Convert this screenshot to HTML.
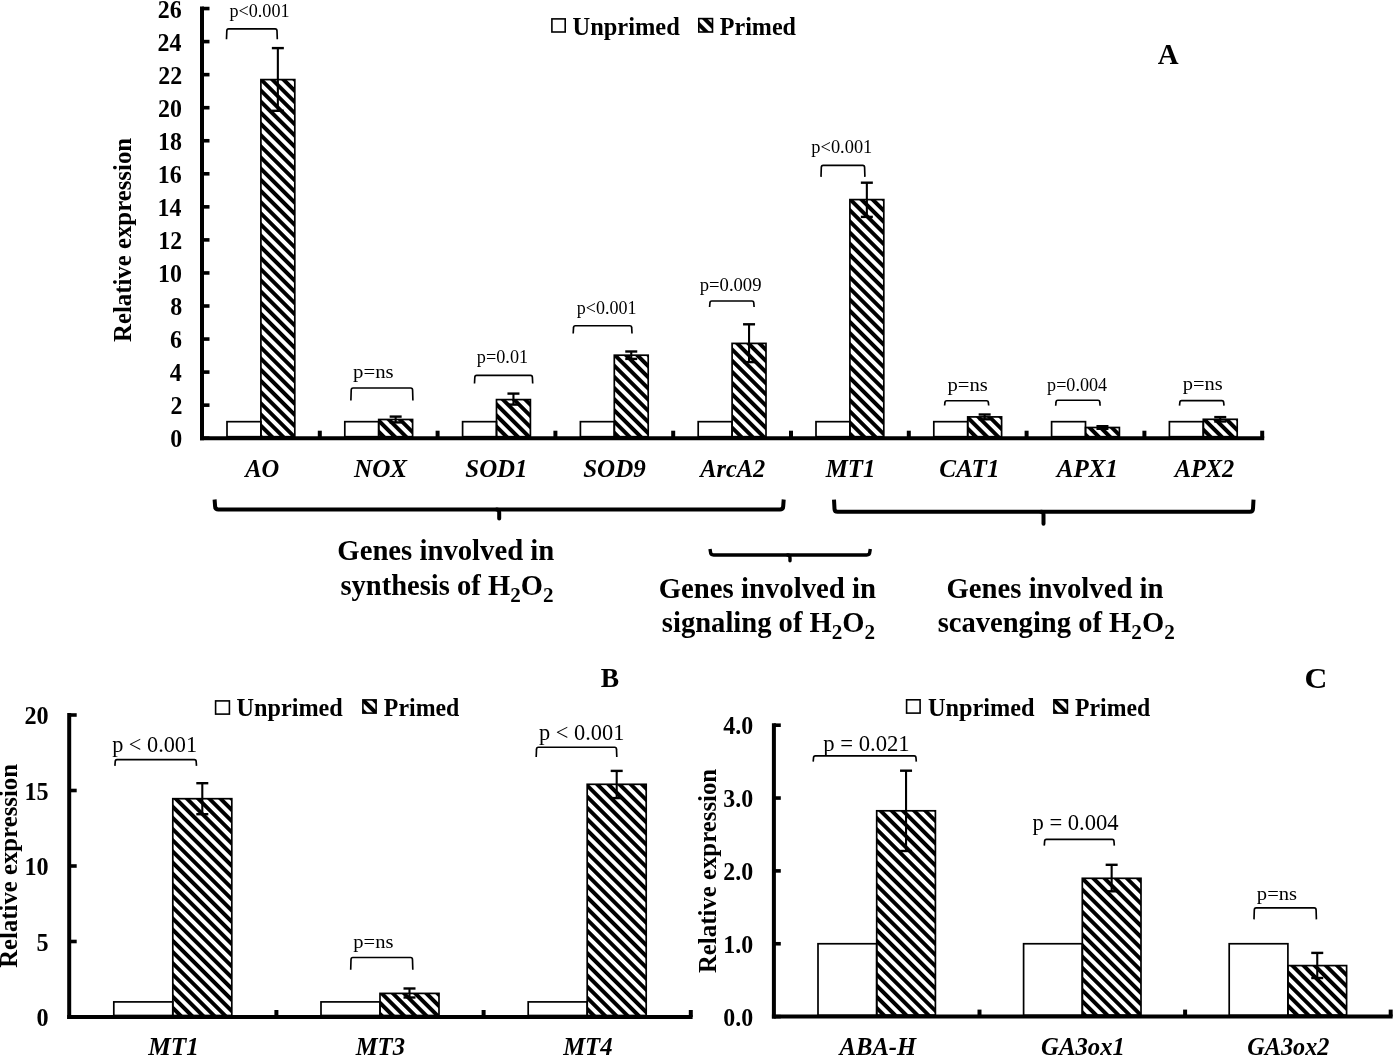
<!DOCTYPE html>
<html><head><meta charset="utf-8"><style>
html,body{margin:0;padding:0;background:#fff;}
body{width:1393px;height:1057px;overflow:hidden;}
svg{display:block;filter:grayscale(100%);}
text{font-family:"Liberation Serif",serif;fill:#000;}
</style></head><body>
<svg width="1393" height="1057" viewBox="0 0 1393 1057" stroke="#000" stroke-linecap="butt">
<defs>
<pattern id="hatch" patternUnits="userSpaceOnUse" width="7.9" height="7.9" patternTransform="rotate(-45)">
<rect x="0" y="0" width="3.95" height="7.9" fill="#000" stroke="none"/>
</pattern>
<pattern id="lh0" patternUnits="userSpaceOnUse" width="7.9" height="7.9" patternTransform="translate(698.80,18.60) rotate(-45) translate(1.95,0)"><rect x="0" y="0" width="4.0" height="7.9" fill="#000" stroke="none"/></pattern><pattern id="lh1" patternUnits="userSpaceOnUse" width="7.9" height="7.9" patternTransform="translate(362.90,699.90) rotate(-45) translate(-2.00,0)"><rect x="0" y="0" width="4.0" height="7.9" fill="#000" stroke="none"/></pattern><pattern id="lh2" patternUnits="userSpaceOnUse" width="7.9" height="7.9" patternTransform="translate(1053.90,699.80) rotate(-45) translate(-2.00,0)"><rect x="0" y="0" width="4.0" height="7.9" fill="#000" stroke="none"/></pattern>
</defs>
<rect x="0" y="0" width="1393" height="1057" fill="#fff" stroke="none"/>
<g stroke="none">
</g>
<line x1="202.00" y1="6.55" x2="202.00" y2="440.20" stroke-width="4"/>
<line x1="202.00" y1="438.20" x2="209.50" y2="438.20" stroke-width="3.6"/>
<line x1="202.00" y1="405.15" x2="209.50" y2="405.15" stroke-width="3.6"/>
<line x1="202.00" y1="372.10" x2="209.50" y2="372.10" stroke-width="3.6"/>
<line x1="202.00" y1="339.05" x2="209.50" y2="339.05" stroke-width="3.6"/>
<line x1="202.00" y1="306.00" x2="209.50" y2="306.00" stroke-width="3.6"/>
<line x1="202.00" y1="272.95" x2="209.50" y2="272.95" stroke-width="3.6"/>
<line x1="202.00" y1="239.90" x2="209.50" y2="239.90" stroke-width="3.6"/>
<line x1="202.00" y1="206.85" x2="209.50" y2="206.85" stroke-width="3.6"/>
<line x1="202.00" y1="173.80" x2="209.50" y2="173.80" stroke-width="3.6"/>
<line x1="202.00" y1="140.75" x2="209.50" y2="140.75" stroke-width="3.6"/>
<line x1="202.00" y1="107.70" x2="209.50" y2="107.70" stroke-width="3.6"/>
<line x1="202.00" y1="74.65" x2="209.50" y2="74.65" stroke-width="3.6"/>
<line x1="202.00" y1="41.60" x2="209.50" y2="41.60" stroke-width="3.6"/>
<line x1="202.00" y1="8.55" x2="209.50" y2="8.55" stroke-width="3.6"/>
<text stroke="none" transform="translate(170.14,447.40) scale(0.9500,1)" font-size="25.2" font-weight="bold" font-style="normal"><tspan>0</tspan></text>
<text stroke="none" transform="translate(170.38,414.35) scale(0.9500,1)" font-size="25.2" font-weight="bold" font-style="normal"><tspan>2</tspan></text>
<text stroke="none" transform="translate(169.66,381.30) scale(0.9500,1)" font-size="25.2" font-weight="bold" font-style="normal"><tspan>4</tspan></text>
<text stroke="none" transform="translate(169.90,348.25) scale(0.9500,1)" font-size="25.2" font-weight="bold" font-style="normal"><tspan>6</tspan></text>
<text stroke="none" transform="translate(170.14,315.20) scale(0.9500,1)" font-size="25.2" font-weight="bold" font-style="normal"><tspan>8</tspan></text>
<text stroke="none" transform="translate(158.03,282.15) scale(0.9500,1)" font-size="25.2" font-weight="bold" font-style="normal"><tspan>10</tspan></text>
<text stroke="none" transform="translate(158.26,249.10) scale(0.9500,1)" font-size="25.2" font-weight="bold" font-style="normal"><tspan>12</tspan></text>
<text stroke="none" transform="translate(157.55,216.05) scale(0.9500,1)" font-size="25.2" font-weight="bold" font-style="normal"><tspan>14</tspan></text>
<text stroke="none" transform="translate(157.79,183.00) scale(0.9500,1)" font-size="25.2" font-weight="bold" font-style="normal"><tspan>16</tspan></text>
<text stroke="none" transform="translate(158.03,149.95) scale(0.9500,1)" font-size="25.2" font-weight="bold" font-style="normal"><tspan>18</tspan></text>
<text stroke="none" transform="translate(158.03,116.90) scale(0.9500,1)" font-size="25.2" font-weight="bold" font-style="normal"><tspan>20</tspan></text>
<text stroke="none" transform="translate(158.26,83.85) scale(0.9500,1)" font-size="25.2" font-weight="bold" font-style="normal"><tspan>22</tspan></text>
<text stroke="none" transform="translate(157.55,50.80) scale(0.9500,1)" font-size="25.2" font-weight="bold" font-style="normal"><tspan>24</tspan></text>
<text stroke="none" transform="translate(157.79,17.75) scale(0.9500,1)" font-size="25.2" font-weight="bold" font-style="normal"><tspan>26</tspan></text>
<line x1="200.00" y1="438.20" x2="1264.20" y2="438.20" stroke-width="4"/>
<line x1="319.80" y1="438.20" x2="319.80" y2="430.70" stroke-width="4"/>
<line x1="437.60" y1="438.20" x2="437.60" y2="430.70" stroke-width="4"/>
<line x1="555.40" y1="438.20" x2="555.40" y2="430.70" stroke-width="4"/>
<line x1="673.20" y1="438.20" x2="673.20" y2="430.70" stroke-width="4"/>
<line x1="791.00" y1="438.20" x2="791.00" y2="430.70" stroke-width="4"/>
<line x1="908.80" y1="438.20" x2="908.80" y2="430.70" stroke-width="4"/>
<line x1="1026.60" y1="438.20" x2="1026.60" y2="430.70" stroke-width="4"/>
<line x1="1144.40" y1="438.20" x2="1144.40" y2="430.70" stroke-width="4"/>
<line x1="1262.20" y1="438.20" x2="1262.20" y2="430.70" stroke-width="4"/>
<rect x="227.00" y="421.68" width="33.90" height="15.02" fill="#fff" stroke-width="1.7"/>
<rect x="260.90" y="79.60" width="33.90" height="357.10" fill="url(#hatch)" stroke-width="1.7"/>
<line x1="277.85" y1="48.10" x2="277.85" y2="110.80" stroke-width="2.1"/>
<line x1="271.85" y1="48.10" x2="283.85" y2="48.10" stroke-width="2.4"/>
<line x1="271.85" y1="110.80" x2="283.85" y2="110.80" stroke-width="2.4"/>
<path d="M226.50,39.20 L226.80,31.10 Q226.80,28.90 228.70,28.90 L275.10,28.90 Q277.00,28.90 277.00,31.10 L277.30,39.20" stroke-width="1.65" fill="none"/>
<text stroke="none" transform="translate(229.47,17.10) scale(0.9156,1)" font-size="19.8" font-weight="normal" font-style="normal"><tspan>p<0.001</tspan></text>
<text stroke="none" transform="translate(245.25,476.80) scale(1.0000,1)" font-size="24.5" font-weight="bold" font-style="italic"><tspan>AO</tspan></text>
<rect x="344.80" y="421.68" width="33.90" height="15.02" fill="#fff" stroke-width="1.7"/>
<rect x="378.70" y="419.50" width="33.90" height="17.20" fill="url(#hatch)" stroke-width="1.7"/>
<line x1="395.65" y1="416.60" x2="395.65" y2="422.40" stroke-width="2.1"/>
<line x1="389.65" y1="416.60" x2="401.65" y2="416.60" stroke-width="2.4"/>
<line x1="389.65" y1="422.40" x2="401.65" y2="422.40" stroke-width="2.4"/>
<path d="M350.90,400.60 L351.20,390.20 Q351.20,388.00 353.10,388.00 L410.70,388.00 Q412.60,388.00 412.60,390.20 L412.90,400.60" stroke-width="1.65" fill="none"/>
<text stroke="none" transform="translate(353.04,378.20) scale(1.0517,1)" font-size="19.8" font-weight="normal" font-style="normal"><tspan>p=ns</tspan></text>
<text stroke="none" transform="translate(354.06,476.80) scale(1.0267,1)" font-size="24.5" font-weight="bold" font-style="italic"><tspan>NOX</tspan></text>
<rect x="462.60" y="421.68" width="33.90" height="15.02" fill="#fff" stroke-width="1.7"/>
<rect x="496.50" y="399.60" width="33.90" height="37.10" fill="url(#hatch)" stroke-width="1.7"/>
<line x1="513.45" y1="393.60" x2="513.45" y2="404.60" stroke-width="2.1"/>
<line x1="507.45" y1="393.60" x2="519.45" y2="393.60" stroke-width="2.4"/>
<line x1="507.45" y1="404.60" x2="519.45" y2="404.60" stroke-width="2.4"/>
<path d="M474.50,383.50 L474.80,377.60 Q474.80,375.40 476.70,375.40 L530.50,375.40 Q532.40,375.40 532.40,377.60 L532.70,383.50" stroke-width="1.65" fill="none"/>
<text stroke="none" transform="translate(476.87,362.80) scale(0.9198,1)" font-size="19.8" font-weight="normal" font-style="normal"><tspan>p=0.01</tspan></text>
<text stroke="none" transform="translate(465.29,476.80) scale(1.0163,1)" font-size="24.5" font-weight="bold" font-style="italic"><tspan>SOD1</tspan></text>
<rect x="580.40" y="421.68" width="33.90" height="15.02" fill="#fff" stroke-width="1.7"/>
<rect x="614.30" y="355.20" width="33.90" height="81.50" fill="url(#hatch)" stroke-width="1.7"/>
<line x1="631.25" y1="351.50" x2="631.25" y2="358.90" stroke-width="2.1"/>
<line x1="625.25" y1="351.50" x2="637.25" y2="351.50" stroke-width="2.4"/>
<line x1="625.25" y1="358.90" x2="637.25" y2="358.90" stroke-width="2.4"/>
<path d="M573.20,333.50 L573.50,327.90 Q573.50,325.70 575.40,325.70 L629.80,325.70 Q631.70,325.70 631.70,327.90 L632.00,333.50" stroke-width="1.65" fill="none"/>
<text stroke="none" transform="translate(576.77,314.00) scale(0.9109,1)" font-size="19.8" font-weight="normal" font-style="normal"><tspan>p<0.001</tspan></text>
<text stroke="none" transform="translate(583.19,476.80) scale(1.0224,1)" font-size="24.5" font-weight="bold" font-style="italic"><tspan>SOD9</tspan></text>
<rect x="698.20" y="421.68" width="33.90" height="15.02" fill="#fff" stroke-width="1.7"/>
<rect x="732.10" y="343.40" width="33.90" height="93.30" fill="url(#hatch)" stroke-width="1.7"/>
<line x1="749.05" y1="324.30" x2="749.05" y2="362.10" stroke-width="2.1"/>
<line x1="743.05" y1="324.30" x2="755.05" y2="324.30" stroke-width="2.4"/>
<line x1="743.05" y1="362.10" x2="755.05" y2="362.10" stroke-width="2.4"/>
<path d="M709.60,307.00 L709.90,303.20 Q709.90,301.00 711.80,301.00 L751.90,301.00 Q753.80,301.00 753.80,303.20 L754.10,307.00" stroke-width="1.65" fill="none"/>
<text stroke="none" transform="translate(699.76,290.50) scale(0.9416,1)" font-size="19.8" font-weight="normal" font-style="normal"><tspan>p=0.009</tspan></text>
<text stroke="none" transform="translate(700.34,476.80) scale(0.9939,1)" font-size="24.5" font-weight="bold" font-style="italic"><tspan>ArcA2</tspan></text>
<rect x="816.00" y="421.68" width="33.90" height="15.02" fill="#fff" stroke-width="1.7"/>
<rect x="849.90" y="199.60" width="33.90" height="237.10" fill="url(#hatch)" stroke-width="1.7"/>
<line x1="866.85" y1="182.70" x2="866.85" y2="216.90" stroke-width="2.1"/>
<line x1="860.85" y1="182.70" x2="872.85" y2="182.70" stroke-width="2.4"/>
<line x1="860.85" y1="216.90" x2="872.85" y2="216.90" stroke-width="2.4"/>
<path d="M821.00,176.90 L821.30,167.60 Q821.30,165.40 823.20,165.40 L862.70,165.40 Q864.60,165.40 864.60,167.60 L864.90,176.90" stroke-width="1.65" fill="none"/>
<text stroke="none" transform="translate(811.37,153.40) scale(0.9281,1)" font-size="19.8" font-weight="normal" font-style="normal"><tspan>p<0.001</tspan></text>
<text stroke="none" transform="translate(825.65,476.80) scale(1.0139,1)" font-size="24.5" font-weight="bold" font-style="italic"><tspan>MT1</tspan></text>
<rect x="933.80" y="421.68" width="33.90" height="15.02" fill="#fff" stroke-width="1.7"/>
<rect x="967.70" y="416.90" width="33.90" height="19.80" fill="url(#hatch)" stroke-width="1.7"/>
<line x1="984.65" y1="414.50" x2="984.65" y2="419.30" stroke-width="2.1"/>
<line x1="978.65" y1="414.50" x2="990.65" y2="414.50" stroke-width="2.4"/>
<line x1="978.65" y1="419.30" x2="990.65" y2="419.30" stroke-width="2.4"/>
<path d="M944.60,405.50 L944.90,402.90 Q944.90,400.70 946.80,400.70 L986.50,400.70 Q988.40,400.70 988.40,402.90 L988.70,405.50" stroke-width="1.65" fill="none"/>
<text stroke="none" transform="translate(947.54,390.50) scale(1.0437,1)" font-size="19.8" font-weight="normal" font-style="normal"><tspan>p=ns</tspan></text>
<text stroke="none" transform="translate(939.33,476.80) scale(1.0299,1)" font-size="24.5" font-weight="bold" font-style="italic"><tspan>CAT1</tspan></text>
<rect x="1051.60" y="421.68" width="33.90" height="15.02" fill="#fff" stroke-width="1.7"/>
<rect x="1085.50" y="427.50" width="33.90" height="9.20" fill="url(#hatch)" stroke-width="1.7"/>
<line x1="1102.45" y1="426.20" x2="1102.45" y2="428.80" stroke-width="2.1"/>
<line x1="1096.45" y1="426.20" x2="1108.45" y2="426.20" stroke-width="2.4"/>
<line x1="1096.45" y1="428.80" x2="1108.45" y2="428.80" stroke-width="2.4"/>
<path d="M1055.70,405.70 L1056.00,402.40 Q1056.00,400.20 1057.90,400.20 L1097.90,400.20 Q1099.80,400.20 1099.80,402.40 L1100.10,405.70" stroke-width="1.65" fill="none"/>
<text stroke="none" transform="translate(1047.07,391.20) scale(0.9158,1)" font-size="19.8" font-weight="normal" font-style="normal"><tspan>p=0.004</tspan></text>
<text stroke="none" transform="translate(1056.78,476.80) scale(1.0213,1)" font-size="24.5" font-weight="bold" font-style="italic"><tspan>APX1</tspan></text>
<rect x="1169.40" y="421.68" width="33.90" height="15.02" fill="#fff" stroke-width="1.7"/>
<rect x="1203.30" y="419.30" width="33.90" height="17.40" fill="url(#hatch)" stroke-width="1.7"/>
<line x1="1220.25" y1="417.10" x2="1220.25" y2="421.50" stroke-width="2.1"/>
<line x1="1214.25" y1="417.10" x2="1226.25" y2="417.10" stroke-width="2.4"/>
<line x1="1214.25" y1="421.50" x2="1226.25" y2="421.50" stroke-width="2.4"/>
<path d="M1179.50,405.70 L1179.80,402.80 Q1179.80,400.60 1181.70,400.60 L1221.80,400.60 Q1223.70,400.60 1223.70,402.80 L1224.00,405.70" stroke-width="1.65" fill="none"/>
<text stroke="none" transform="translate(1182.74,390.40) scale(1.0358,1)" font-size="19.8" font-weight="normal" font-style="normal"><tspan>p=ns</tspan></text>
<text stroke="none" transform="translate(1174.74,476.80) scale(0.9942,1)" font-size="24.5" font-weight="bold" font-style="italic"><tspan>APX2</tspan></text>
<rect x="551.90" y="18.90" width="13.30" height="13.10" fill="#fff" stroke-width="1.6"/>
<text stroke="none" transform="translate(572.51,34.90) scale(0.9780,1)" font-size="25.0" font-weight="bold" font-style="normal"><tspan>Unprimed</tspan></text>
<rect x="698.80" y="18.60" width="13.70" height="13.40" fill="url(#lh0)" stroke-width="1.6"/>
<text stroke="none" transform="translate(719.72,34.90) scale(0.9643,1)" font-size="25.0" font-weight="bold" font-style="normal"><tspan>Primed</tspan></text>
<text stroke="none" transform="translate(1157.76,64.30) scale(0.9783,1)" font-size="29.5" font-weight="bold" font-style="normal"><tspan>A</tspan></text>
<text stroke="none" transform="translate(131.20,342.00) rotate(-90) scale(1.0087,1)" font-size="24.6" font-weight="bold" font-style="normal"><tspan>Relative expression</tspan></text>
<path d="M214.60,499.50 L215.10,506.40 Q215.20,509.40 218.20,509.40 L780.10,509.40 Q783.10,509.40 783.20,506.40 L783.70,499.50" stroke-width="4" fill="none"/>
<path d="M496.70,509.40 Q499.20,509.40 499.20,512.40 L499.20,518.40" stroke-width="4" fill="none" stroke-linecap="round"/>
<path d="M834.00,499.60 L834.50,508.80 Q834.60,511.80 837.60,511.80 L1249.90,511.80 Q1252.90,511.80 1253.00,508.80 L1253.50,499.60" stroke-width="4" fill="none"/>
<path d="M1041.00,511.80 Q1043.50,511.80 1043.50,514.80 L1043.50,523.80" stroke-width="4" fill="none" stroke-linecap="round"/>
<path d="M710.00,548.90 L710.50,552.00 Q710.60,555.00 713.60,555.00 L866.70,555.00 Q869.70,555.00 869.80,552.00 L870.30,548.90" stroke-width="3.4" fill="none"/>
<path d="M787.50,555.00 Q790.00,555.00 790.00,558.00 L790.00,560.80" stroke-width="3.4" fill="none" stroke-linecap="round"/>
<text stroke="none" transform="translate(337.34,560.10) scale(1.0077,1)" font-size="28.5" font-weight="bold" font-style="normal"><tspan>Genes involved in</tspan></text>
<text stroke="none" transform="translate(340.45,594.60) scale(1.0017,1)" font-size="28.5" font-weight="bold" font-style="normal"><tspan>synthesis of H</tspan><tspan font-size="21.09" dy="7.12">2</tspan><tspan dy="-7.12">O</tspan><tspan font-size="21.09" dy="7.12">2</tspan></text>
<text stroke="none" transform="translate(658.64,597.70) scale(1.0101,1)" font-size="28.5" font-weight="bold" font-style="normal"><tspan>Genes involved in</tspan></text>
<text stroke="none" transform="translate(661.85,632.30) scale(1.0033,1)" font-size="28.5" font-weight="bold" font-style="normal"><tspan>signaling of H</tspan><tspan font-size="21.09" dy="7.12">2</tspan><tspan dy="-7.12">O</tspan><tspan font-size="21.09" dy="7.12">2</tspan></text>
<text stroke="none" transform="translate(946.44,597.50) scale(1.0087,1)" font-size="28.5" font-weight="bold" font-style="normal"><tspan>Genes involved in</tspan></text>
<text stroke="none" transform="translate(937.65,632.20) scale(1.0030,1)" font-size="28.5" font-weight="bold" font-style="normal"><tspan>scavenging of H</tspan><tspan font-size="21.09" dy="7.12">2</tspan><tspan dy="-7.12">O</tspan><tspan font-size="21.09" dy="7.12">2</tspan></text>
<line x1="69.20" y1="713.00" x2="69.20" y2="1019.00" stroke-width="4"/>
<line x1="69.20" y1="1017.00" x2="76.70" y2="1017.00" stroke-width="3.6"/>
<text stroke="none" transform="translate(36.62,1026.20) scale(0.9600,1)" font-size="25.2" font-weight="bold" font-style="normal"><tspan>0</tspan></text>
<line x1="69.20" y1="941.50" x2="76.70" y2="941.50" stroke-width="3.6"/>
<text stroke="none" transform="translate(36.62,950.70) scale(0.9600,1)" font-size="25.2" font-weight="bold" font-style="normal"><tspan>5</tspan></text>
<line x1="69.20" y1="866.00" x2="76.70" y2="866.00" stroke-width="3.6"/>
<text stroke="none" transform="translate(24.38,875.20) scale(0.9600,1)" font-size="25.2" font-weight="bold" font-style="normal"><tspan>10</tspan></text>
<line x1="69.20" y1="790.50" x2="76.70" y2="790.50" stroke-width="3.6"/>
<text stroke="none" transform="translate(24.38,799.70) scale(0.9600,1)" font-size="25.2" font-weight="bold" font-style="normal"><tspan>15</tspan></text>
<line x1="69.20" y1="715.00" x2="76.70" y2="715.00" stroke-width="3.6"/>
<text stroke="none" transform="translate(24.38,724.20) scale(0.9600,1)" font-size="25.2" font-weight="bold" font-style="normal"><tspan>20</tspan></text>
<line x1="67.20" y1="1017.00" x2="692.60" y2="1017.00" stroke-width="4"/>
<line x1="276.40" y1="1017.00" x2="276.40" y2="1010.00" stroke-width="4"/>
<line x1="483.60" y1="1017.00" x2="483.60" y2="1010.00" stroke-width="4"/>
<line x1="690.80" y1="1017.00" x2="690.80" y2="1010.00" stroke-width="4"/>
<rect x="113.80" y="1001.90" width="59.00" height="13.60" fill="#fff" stroke-width="1.7"/>
<rect x="172.80" y="798.70" width="59.00" height="216.80" fill="url(#hatch)" stroke-width="1.7"/>
<line x1="202.30" y1="783.20" x2="202.30" y2="814.20" stroke-width="2.1"/>
<line x1="196.30" y1="783.20" x2="208.30" y2="783.20" stroke-width="2.4"/>
<line x1="196.30" y1="814.20" x2="208.30" y2="814.20" stroke-width="2.4"/>
<path d="M114.90,765.90 L115.20,761.80 Q115.20,759.60 117.10,759.60 L194.30,759.60 Q196.20,759.60 196.20,761.80 L196.50,765.90" stroke-width="1.65" fill="none"/>
<text stroke="none" transform="translate(112.16,752.20) scale(0.9489,1)" font-size="23.5" font-weight="normal" font-style="normal"><tspan>p < 0.001</tspan></text>
<text stroke="none" transform="translate(148.16,1055.20) scale(1.0374,1)" font-size="24.5" font-weight="bold" font-style="italic"><tspan>MT1</tspan></text>
<rect x="321.00" y="1001.90" width="59.00" height="13.60" fill="#fff" stroke-width="1.7"/>
<rect x="380.00" y="993.40" width="59.00" height="22.10" fill="url(#hatch)" stroke-width="1.7"/>
<line x1="409.50" y1="988.50" x2="409.50" y2="997.50" stroke-width="2.1"/>
<line x1="403.50" y1="988.50" x2="415.50" y2="988.50" stroke-width="2.4"/>
<line x1="403.50" y1="997.50" x2="415.50" y2="997.50" stroke-width="2.4"/>
<path d="M350.70,969.70 L351.00,959.70 Q351.00,957.50 352.90,957.50 L410.60,957.50 Q412.50,957.50 412.50,959.70 L412.80,969.70" stroke-width="1.65" fill="none"/>
<text stroke="none" transform="translate(353.34,947.80) scale(1.0384,1)" font-size="19.8" font-weight="normal" font-style="normal"><tspan>p=ns</tspan></text>
<text stroke="none" transform="translate(355.75,1055.20) scale(1.0041,1)" font-size="24.5" font-weight="bold" font-style="italic"><tspan>MT3</tspan></text>
<rect x="528.20" y="1001.90" width="59.00" height="13.60" fill="#fff" stroke-width="1.7"/>
<rect x="587.20" y="784.30" width="59.00" height="231.20" fill="url(#hatch)" stroke-width="1.7"/>
<line x1="616.70" y1="770.90" x2="616.70" y2="798.10" stroke-width="2.1"/>
<line x1="610.70" y1="770.90" x2="622.70" y2="770.90" stroke-width="2.4"/>
<line x1="610.70" y1="798.10" x2="622.70" y2="798.10" stroke-width="2.4"/>
<path d="M536.20,757.00 L536.50,749.40 Q536.50,747.20 538.40,747.20 L614.60,747.20 Q616.50,747.20 616.50,749.40 L616.80,757.00" stroke-width="1.65" fill="none"/>
<text stroke="none" transform="translate(539.06,739.50) scale(0.9523,1)" font-size="23.5" font-weight="normal" font-style="normal"><tspan>p < 0.001</tspan></text>
<text stroke="none" transform="translate(563.15,1055.20) scale(1.0082,1)" font-size="24.5" font-weight="bold" font-style="italic"><tspan>MT4</tspan></text>
<rect x="215.60" y="700.90" width="13.80" height="13.20" fill="#fff" stroke-width="1.6"/>
<text stroke="none" transform="translate(236.52,715.60) scale(0.9688,1)" font-size="25.0" font-weight="bold" font-style="normal"><tspan>Unprimed</tspan></text>
<rect x="362.90" y="699.90" width="13.20" height="13.20" fill="url(#lh1)" stroke-width="1.6"/>
<text stroke="none" transform="translate(383.82,715.80) scale(0.9554,1)" font-size="25.0" font-weight="bold" font-style="normal"><tspan>Primed</tspan></text>
<text stroke="none" transform="translate(600.70,687.20) scale(1.0000,1)" font-size="27.5" font-weight="bold" font-style="normal"><tspan>B</tspan></text>
<text stroke="none" transform="translate(17.30,967.80) rotate(-90) scale(1.0067,1)" font-size="24.6" font-weight="bold" font-style="normal"><tspan>Relative expression</tspan></text>
<line x1="773.90" y1="723.20" x2="773.90" y2="1018.60" stroke-width="4"/>
<line x1="773.90" y1="1016.60" x2="780.80" y2="1016.60" stroke-width="3.6"/>
<text stroke="none" transform="translate(723.19,1025.80) scale(0.9500,1)" font-size="25.2" font-weight="bold" font-style="normal"><tspan>0.0</tspan></text>
<line x1="773.90" y1="943.75" x2="780.80" y2="943.75" stroke-width="3.6"/>
<text stroke="none" transform="translate(723.19,952.95) scale(0.9500,1)" font-size="25.2" font-weight="bold" font-style="normal"><tspan>1.0</tspan></text>
<line x1="773.90" y1="870.90" x2="780.80" y2="870.90" stroke-width="3.6"/>
<text stroke="none" transform="translate(723.19,880.10) scale(0.9500,1)" font-size="25.2" font-weight="bold" font-style="normal"><tspan>2.0</tspan></text>
<line x1="773.90" y1="798.05" x2="780.80" y2="798.05" stroke-width="3.6"/>
<text stroke="none" transform="translate(723.19,807.25) scale(0.9500,1)" font-size="25.2" font-weight="bold" font-style="normal"><tspan>3.0</tspan></text>
<line x1="773.90" y1="725.20" x2="780.80" y2="725.20" stroke-width="3.6"/>
<text stroke="none" transform="translate(723.19,734.40) scale(0.9500,1)" font-size="25.2" font-weight="bold" font-style="normal"><tspan>4.0</tspan></text>
<line x1="771.90" y1="1016.60" x2="1392.60" y2="1016.60" stroke-width="4"/>
<line x1="979.50" y1="1016.60" x2="979.50" y2="1009.60" stroke-width="4"/>
<line x1="1185.10" y1="1016.60" x2="1185.10" y2="1009.60" stroke-width="4"/>
<line x1="1390.70" y1="1016.60" x2="1390.70" y2="1009.60" stroke-width="4"/>
<rect x="818.00" y="943.75" width="58.70" height="71.35" fill="#fff" stroke-width="1.7"/>
<rect x="876.70" y="810.80" width="58.70" height="204.30" fill="url(#hatch)" stroke-width="1.7"/>
<line x1="906.05" y1="770.70" x2="906.05" y2="851.00" stroke-width="2.1"/>
<line x1="900.05" y1="770.70" x2="912.05" y2="770.70" stroke-width="2.4"/>
<line x1="900.05" y1="851.00" x2="912.05" y2="851.00" stroke-width="2.4"/>
<path d="M813.20,761.60 L813.50,758.00 Q813.50,755.80 815.40,755.80 L914.10,755.80 Q916.00,755.80 916.00,758.00 L916.30,761.60" stroke-width="1.65" fill="none"/>
<text stroke="none" transform="translate(823.16,750.80) scale(0.9659,1)" font-size="23.5" font-weight="normal" font-style="normal"><tspan>p = 0.021</tspan></text>
<text stroke="none" transform="translate(839.56,1055.20) scale(1.0045,1)" font-size="24.5" font-weight="bold" font-style="italic"><tspan>ABA-H</tspan></text>
<rect x="1023.60" y="943.75" width="58.70" height="71.35" fill="#fff" stroke-width="1.7"/>
<rect x="1082.30" y="878.30" width="58.70" height="136.80" fill="url(#hatch)" stroke-width="1.7"/>
<line x1="1111.65" y1="864.80" x2="1111.65" y2="891.30" stroke-width="2.1"/>
<line x1="1105.65" y1="864.80" x2="1117.65" y2="864.80" stroke-width="2.4"/>
<line x1="1105.65" y1="891.30" x2="1117.65" y2="891.30" stroke-width="2.4"/>
<path d="M1044.30,845.60 L1044.60,841.60 Q1044.60,839.40 1046.50,839.40 L1112.10,839.40 Q1114.00,839.40 1114.00,841.60 L1114.30,845.60" stroke-width="1.65" fill="none"/>
<text stroke="none" transform="translate(1032.46,830.10) scale(0.9625,1)" font-size="23.5" font-weight="normal" font-style="normal"><tspan>p = 0.004</tspan></text>
<text stroke="none" transform="translate(1041.04,1055.20) scale(1.0107,1)" font-size="24.5" font-weight="bold" font-style="italic"><tspan>GA3ox1</tspan></text>
<rect x="1229.20" y="943.75" width="58.70" height="71.35" fill="#fff" stroke-width="1.7"/>
<rect x="1287.90" y="965.60" width="58.70" height="49.50" fill="url(#hatch)" stroke-width="1.7"/>
<line x1="1317.25" y1="952.90" x2="1317.25" y2="978.00" stroke-width="2.1"/>
<line x1="1311.25" y1="952.90" x2="1323.25" y2="952.90" stroke-width="2.4"/>
<line x1="1311.25" y1="978.00" x2="1323.25" y2="978.00" stroke-width="2.4"/>
<path d="M1254.00,919.40 L1254.30,910.10 Q1254.30,907.90 1256.20,907.90 L1314.20,907.90 Q1316.10,907.90 1316.10,910.10 L1316.40,919.40" stroke-width="1.65" fill="none"/>
<text stroke="none" transform="translate(1256.84,900.20) scale(1.0411,1)" font-size="19.8" font-weight="normal" font-style="normal"><tspan>p=ns</tspan></text>
<text stroke="none" transform="translate(1247.26,1055.20) scale(0.9908,1)" font-size="24.5" font-weight="bold" font-style="italic"><tspan>GA3ox2</tspan></text>
<rect x="906.60" y="699.80" width="13.50" height="13.30" fill="#fff" stroke-width="1.6"/>
<text stroke="none" transform="translate(927.91,715.60) scale(0.9725,1)" font-size="25.0" font-weight="bold" font-style="normal"><tspan>Unprimed</tspan></text>
<rect x="1053.90" y="699.80" width="13.50" height="13.30" fill="url(#lh2)" stroke-width="1.6"/>
<text stroke="none" transform="translate(1075.02,715.80) scale(0.9503,1)" font-size="25.0" font-weight="bold" font-style="normal"><tspan>Primed</tspan></text>
<text stroke="none" transform="translate(1304.62,687.70) scale(1.0556,1)" font-size="30.0" font-weight="bold" font-style="normal"><tspan>C</tspan></text>
<text stroke="none" transform="translate(715.70,973.10) rotate(-90) scale(1.0092,1)" font-size="24.6" font-weight="bold" font-style="normal"><tspan>Relative expression</tspan></text>
</svg>
</body></html>
